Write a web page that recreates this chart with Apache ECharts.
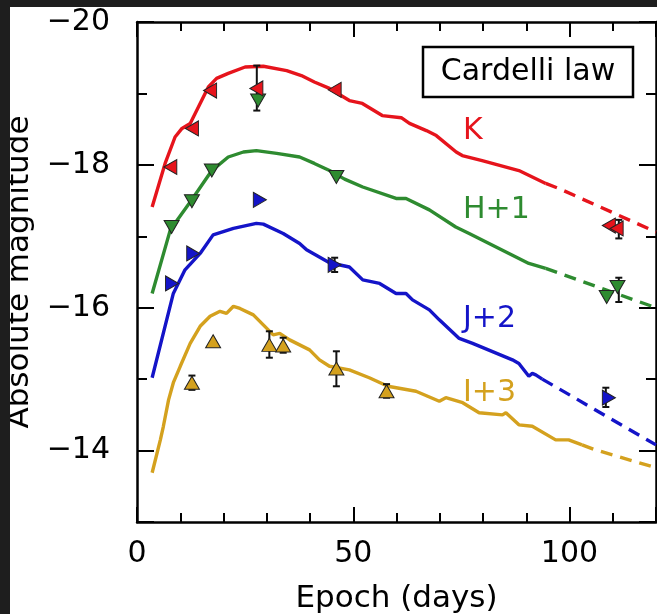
<!DOCTYPE html>
<html>
<head>
<meta charset="utf-8">
<script src="https://cdn.jsdelivr.net/npm/echarts@6/dist/echarts.min.js"></script>
<style>
html, body { margin: 0; padding: 0; width: 657px; height: 614px; overflow: hidden; background: #1e1e1e; }
#chart { position: absolute; left: 10px; top: 7px; width: 647px; height: 607px; background: #fff; }
</style>
</head>
<body>
<div id="chart"></div>
<script>
// Model light curves (epoch in days, absolute magnitude), solid part then dashed extrapolation
const kModel = [[3.5,-17.41],[6.5,-18.02],[8.8,-18.39],[10.4,-18.51],[12.3,-18.58],[14.6,-18.86],[16.5,-19.09],[18.4,-19.21],[21.1,-19.28],[25,-19.37],[29.2,-19.38],[34.6,-19.32],[38,-19.25],[41,-19.16],[44.5,-19.07],[49.1,-18.90],[52.1,-18.86],[56.7,-18.69],[61.1,-18.66],[63,-18.58],[66.9,-18.48],[69.2,-18.41],[73.8,-18.18],[75.2,-18.13],[79.8,-18.06],[88.3,-17.92],[94.5,-17.74]];
const kModelExt = [[94.5,-17.74],[97.5,-17.67],[120,-17.06]];

const hModel = [[3.5,-16.20],[7.7,-17.09],[12.3,-17.48],[17.3,-17.92],[21.1,-18.11],[24.6,-18.18],[27.6,-18.20],[32.3,-18.16],[37.6,-18.11],[41,-18.02],[44.5,-17.92],[48,-17.80],[52.2,-17.69],[59.9,-17.53],[62.2,-17.53],[67.6,-17.37],[73.7,-17.13],[76.8,-17.04],[86,-16.76],[90.6,-16.62],[94.5,-16.55]];
const hModelExt = [[94.5,-16.55],[120,-16.00]];

const jModel = [[3.5,-15.02],[8.4,-16.20],[11.1,-16.53],[14.6,-16.76],[17.6,-17.02],[22.3,-17.11],[27.6,-17.18],[29.2,-17.17],[33.8,-17.04],[37.6,-16.90],[39.2,-16.81],[44.5,-16.63],[49.1,-16.57],[52.2,-16.39],[56.1,-16.34],[59.9,-16.20],[62.2,-16.20],[63.7,-16.11],[67.6,-15.97],[69.9,-15.83],[74.5,-15.57],[77.6,-15.50],[86.8,-15.27],[88.3,-15.22],[90.6,-15.04],[91.4,-15.08],[92.2,-15.06],[93.7,-15.00]];
const jModelExt = [[93.7,-15.00],[120,-14.08]];

const iModel = [[3.5,-13.69],[5.4,-14.15],[6.1,-14.34],[7.3,-14.71],[8.4,-14.95],[10.0,-15.18],[12.3,-15.50],[14.6,-15.74],[16.9,-15.88],[19.2,-15.95],[20.7,-15.92],[22.3,-16.02],[23.8,-15.99],[26.9,-15.90],[29.2,-15.76],[31.5,-15.62],[33.0,-15.64],[35.3,-15.55],[39.9,-15.41],[42.2,-15.27],[44.5,-15.18],[49.1,-15.13],[53.7,-15.02],[58,-14.90],[64.5,-14.83],[69.9,-14.69],[71.4,-14.74],[75.3,-14.67],[79.1,-14.53],[84.5,-14.50],[85.3,-14.53],[88.3,-14.36],[91.4,-14.34],[96.8,-14.15],[99.8,-14.15],[102.9,-14.08]];
const iModelExt = [[102.9,-14.08],[106,-14.01],[120,-13.76]];

// Observed photometry
const kObs = [[7.7,-17.97],[12.7,-18.51],[16.9,-19.04],[27.6,-19.07],[45.7,-19.05],[109.1,-17.15],[110.9,-17.11]];
const hObs = [[8.0,-17.13],[12.7,-17.49],[17.3,-17.92],[28.0,-18.90],[46.1,-17.83],[108.6,-16.15],[111.1,-16.29]];
const jObs = [[8.1,-16.34],[13.0,-16.76],[28.4,-17.51],[45.7,-16.60],[109.1,-14.74]];
const iObs = [[12.7,-14.95],[17.6,-15.53],[30.6,-15.48],[33.8,-15.47],[46.1,-15.15],[57.7,-14.83]];

// Error bars: [epoch, bright end, faint end]
const kErr = [[27.7,-19.39,-18.76],[111.4,-17.23,-16.97]];
const hErr = [[111.4,-16.42,-16.08]];
const jErr = [[45.7,-16.70,-16.50],[108.4,-14.88,-14.61]];
const iErr = [[12.7,-15.05,-14.85],[30.6,-15.67,-15.30],[33.8,-15.58,-15.37],[46.1,-15.39,-14.90],[57.7,-14.93,-14.74]];

// Axis ticks
const xMajorStep = 50, xMinorStep = 10;
const yMajorStep = 2, yMinorStep = 1;

const RED = '#e6141c', GREEN = '#2e8b30', BLUE = '#1414c8', GOLD = '#d4a11e';
const FONT = 'DejaVu Sans';

const chart = echarts.init(document.getElementById('chart'), null, { renderer: 'canvas' });

function lineSeries(data, color, dashed) {
  return {
    type: 'line', data: data, xAxisIndex: 0, yAxisIndex: 0,
    showSymbol: false, symbol: 'none', silent: true, z: 2,
    lineStyle: { color: color, width: 3.4, type: dashed ? [12, 8] : 'solid' }
  };
}
function markerSeries(data, color, rotate) {
  return {
    type: 'scatter', data: data, xAxisIndex: 0, yAxisIndex: 0,
    symbol: 'triangle', symbolSize: [15, 13], symbolRotate: rotate, silent: true, z: 5,
    itemStyle: { color: color, borderColor: '#222', borderWidth: 1, opacity: 1 }
  };
}
function errorSeries(data) {
  return {
    type: 'custom', data: data, xAxisIndex: 0, yAxisIndex: 0, silent: true, z: 4,
    encode: { x: 0, y: [1, 2] },
    renderItem: function (params, api) {
      const x = api.value(0);
      const a = api.coord([x, api.value(1)]);
      const b = api.coord([x, api.value(2)]);
      const cap = 3.5;
      const st = { stroke: '#111', lineWidth: 2 };
      return {
        type: 'group', children: [
          { type: 'line', shape: { x1: a[0], y1: a[1], x2: b[0], y2: b[1] }, style: st },
          { type: 'line', shape: { x1: a[0] - cap, y1: a[1], x2: a[0] + cap, y2: a[1] }, style: st },
          { type: 'line', shape: { x1: b[0] - cap, y1: b[1], x2: b[0] + cap, y2: b[1] }, style: st }
        ]
      };
    }
  };
}

const tickStyle = { color: '#000', width: 2 };
const lineStyleAxis = { color: '#000', width: 2.5 };

function xAx(position, step, len, withLine, labels) {
  const ax = {
    type: 'value', position: position, min: 0, max: 120, interval: step,
    axisLine: { show: withLine, onZero: false, lineStyle: lineStyleAxis },
    axisTick: { show: true, inside: true, length: len, lineStyle: tickStyle },
    splitLine: { show: false },
    axisLabel: { show: false }
  };
  if (labels) {
    ax.axisLabel = {
      show: true, margin: 17, color: '#000', fontSize: 30, fontFamily: FONT,
      formatter: v => (v % xMajorStep === 0 && v <= 100 ? String(v) : '')
    };
    ax.name = 'Epoch (days)';
    ax.nameLocation = 'middle';
    ax.nameGap = 61;
    ax.nameTextStyle = { color: '#000', fontSize: 31, fontFamily: FONT };
  }
  return ax;
}
function yAx(position, step, len, withLine, labels) {
  const ax = {
    type: 'value', position: position, min: -20, max: -13, interval: step, inverse: true,
    axisLine: { show: withLine, onZero: false, lineStyle: lineStyleAxis },
    axisTick: { show: true, inside: true, length: len, lineStyle: tickStyle },
    splitLine: { show: false },
    axisLabel: { show: false }
  };
  if (labels) {
    ax.axisLabel = {
      show: true, margin: 27, color: '#000', fontSize: 30, fontFamily: FONT,
      formatter: v => (v % yMajorStep === 0 ? '\u2212' + Math.abs(v) : '')
    };
    ax.name = 'Absolute magnitude';
    ax.nameLocation = 'middle';
    ax.nameGap = 88;
    ax.nameTextStyle = { color: '#000', fontSize: 31, fontFamily: FONT };
  }
  return ax;
}

const option = {
  animation: false,
  backgroundColor: '#fff',
  grid: { left: 127, top: 15, right: 1, bottom: 92, containLabel: false, outerBoundsMode: 'none' },
  xAxis: [
    xAx('bottom', xMinorStep, 9, true, false),
    xAx('bottom', xMajorStep, 15, false, true),
    xAx('top', xMinorStep, 9, true, false),
    xAx('top', xMajorStep, 15, false, false)
  ],
  yAxis: [
    yAx('left', yMinorStep, 10, true, false),
    yAx('left', yMajorStep, 17, false, true),
    yAx('right', yMinorStep, 10, true, false),
    yAx('right', yMajorStep, 17, false, false)
  ],
  series: [
    lineSeries(iModel, GOLD, false), lineSeries(iModelExt, GOLD, true),
    lineSeries(jModel, BLUE, false), lineSeries(jModelExt, BLUE, true),
    lineSeries(hModel, GREEN, false), lineSeries(hModelExt, GREEN, true),
    lineSeries(kModel, RED, false), lineSeries(kModelExt, RED, true),
    errorSeries(iErr), errorSeries(jErr), errorSeries(hErr), errorSeries(kErr),
    markerSeries(iObs, GOLD, 0),
    markerSeries(jObs, BLUE, -90),
    markerSeries(hObs, GREEN, 180),
    markerSeries(kObs, RED, 90)
  ],
  graphic: [
    { type: 'rect', z: 20, shape: { x: 413, y: 40, width: 210, height: 50 },
      style: { fill: '#fff', stroke: '#000', lineWidth: 2.5 } },
    { type: 'text', z: 21, x: 518, y: 65,
      style: { text: 'Cardelli law', font: '30px "DejaVu Sans"', fill: '#000', align: 'center', verticalAlign: 'middle' } },
    { type: 'text', z: 21, x: 453, y: 124,
      style: { text: 'K', font: '30px "DejaVu Sans"', fill: RED, align: 'left', verticalAlign: 'middle' } },
    { type: 'text', z: 21, x: 453, y: 203,
      style: { text: 'H+1', font: '30px "DejaVu Sans"', fill: GREEN, align: 'left', verticalAlign: 'middle' } },
    { type: 'text', z: 21, x: 453, y: 312,
      style: { text: 'J+2', font: '30px "DejaVu Sans"', fill: BLUE, align: 'left', verticalAlign: 'middle' } },
    { type: 'text', z: 21, x: 453, y: 386,
      style: { text: 'I+3', font: '30px "DejaVu Sans"', fill: GOLD, align: 'left', verticalAlign: 'middle' } }
  ]
};
chart.setOption(option);
</script>
</body>
</html>
